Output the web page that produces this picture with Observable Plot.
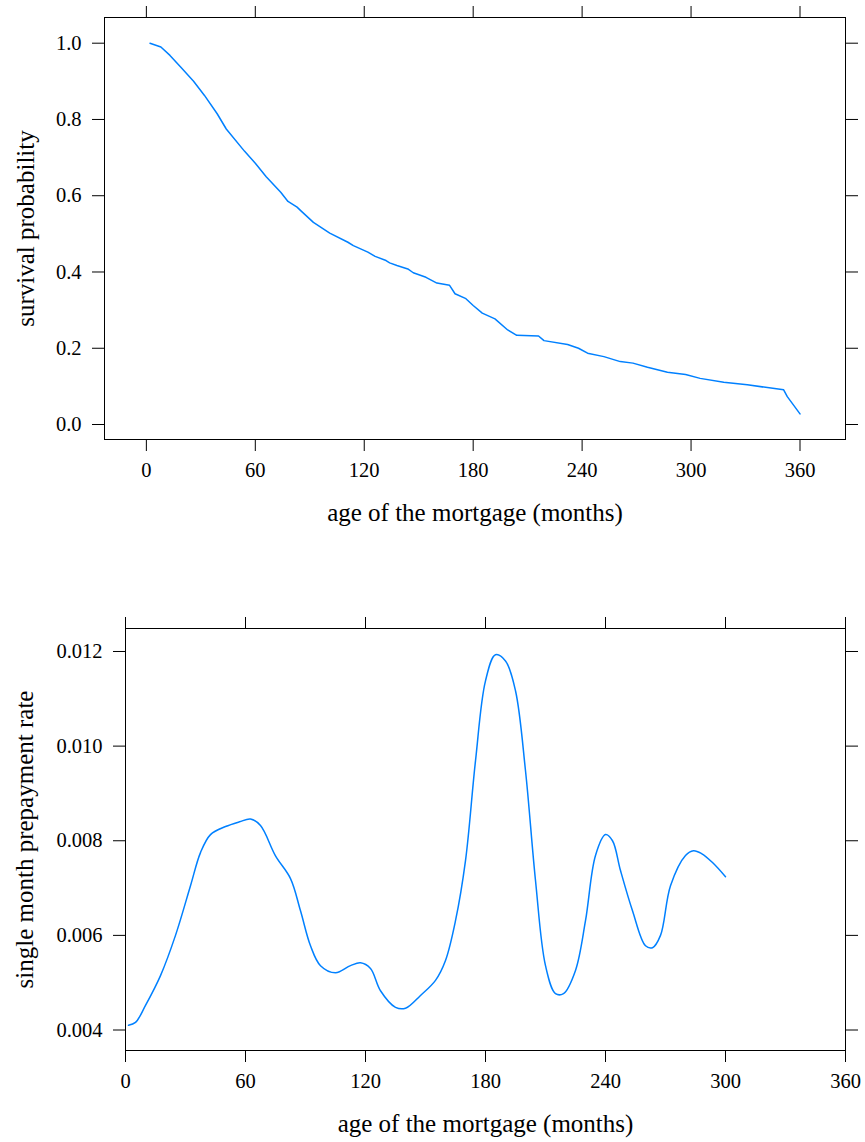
<!DOCTYPE html>
<html>
<head>
<meta charset="utf-8">
<script src="https://cdn.jsdelivr.net/npm/d3@7"></script>
<script src="https://cdn.jsdelivr.net/npm/@observablehq/plot@0.6"></script>
<style>
  html, body { margin: 0; padding: 0; background: #fff; }
  #chart svg { display: block; overflow: visible; }
  #chart svg, #chart svg text { font-family: "Liberation Serif", "Times New Roman", serif !important; }
</style>
</head>
<body>
<div id="chart"></div>
<script>
// ---- Top panel: survival probability ----
const survMonths = [2, 8, 13, 19, 26, 32, 39, 44, 54, 60, 66, 74, 78, 83, 85, 92, 101, 111, 114, 122, 126, 132, 134, 138, 144, 147, 154, 160, 167, 170, 176, 180, 185, 192, 199, 204, 216, 219, 232, 238, 243, 252, 261, 268, 276, 287, 297, 305, 318, 331, 351, 353, 360];
const survProb = [1.0, 0.990, 0.968, 0.937, 0.900, 0.863, 0.815, 0.775, 0.717, 0.685, 0.650, 0.609, 0.585, 0.570, 0.561, 0.530, 0.502, 0.478, 0.469, 0.452, 0.441, 0.430, 0.424, 0.417, 0.408, 0.398, 0.386, 0.371, 0.365, 0.343, 0.330, 0.312, 0.292, 0.277, 0.248, 0.234, 0.232, 0.220, 0.210, 0.200, 0.187, 0.178, 0.165, 0.161, 0.150, 0.137, 0.131, 0.121, 0.111, 0.104, 0.091, 0.073, 0.028];

// ---- Bottom panel: single month prepayment rate ----
const rateMonths = [1.5, 5, 10, 17.5, 25, 32.5, 37.5, 42.5, 50, 57, 62.5, 67.5, 75, 82.5, 87.5, 92.5, 97.5, 105, 112.5, 117.5, 122.5, 127.5, 135, 140, 147.5, 155, 160, 165, 170, 175, 180, 185, 190, 195, 200, 205, 210, 215, 219, 225, 230, 235, 240, 243.5, 247.5, 253.5, 260, 263.5, 267.5, 272.5, 280, 284, 288, 293.5, 300];
const rateValues = [0.00410, 0.00416, 0.00452, 0.00515, 0.00600, 0.00705, 0.00775, 0.00813, 0.00830, 0.00840, 0.00846, 0.00832, 0.00768, 0.00720, 0.00652, 0.00578, 0.00536, 0.00521, 0.00536, 0.00542, 0.00530, 0.00483, 0.00448, 0.00446, 0.00473, 0.00505, 0.00547, 0.00631, 0.00758, 0.00969, 0.01138, 0.01193, 0.01180, 0.01117, 0.00948, 0.00716, 0.00536, 0.00477, 0.00477, 0.00526, 0.00631, 0.00769, 0.00813, 0.00800, 0.00737, 0.00652, 0.00578, 0.00574, 0.00600, 0.00705, 0.00769, 0.00779, 0.00773, 0.00754, 0.00724];

const xTicks = [0, 60, 120, 180, 240, 300, 360];
const survTicks = [0, 0.2, 0.4, 0.6, 0.8, 1.0];
const rateTicks = [0.004, 0.006, 0.008, 0.010, 0.012];

const xTitle = "age of the mortgage (months)";
const survTitle = "survival probability";
const rateTitle = "single month prepayment rate";

const lineColor = "#0080ff";
const tickFont = 20.5;
const titleFont = 25;

const survData = survMonths.map((m, i) => ({month: m, value: survProb[i]}));
const rateData = rateMonths.map((m, i) => ({month: m, value: rateValues[i]}));

function panel({data, xDomain, yDomain, yTicks, yFormat, yTitle, height, margins, curve, yTitleDx}) {
  return Plot.plot({
    width: 865,
    height,
    ...margins,
    style: {fontFamily: "Liberation Serif", fontSize: tickFont + "px", background: "#fff", color: "#000"},
    x: {domain: xDomain, label: null},
    y: {domain: yDomain, label: null},
    marks: [
      Plot.frame({stroke: "#000", strokeWidth: 1}),
      Plot.axisX(xTicks, {anchor: "bottom", tickSize: 12, tickPadding: 11, fontSize: tickFont, label: null}),
      Plot.axisX(xTicks, {anchor: "top", tickSize: 12, tickFormat: () => "", label: null}),
      Plot.axisY(yTicks, {anchor: "left", tickSize: 12, tickPadding: 11, tickFormat: d3.format(yFormat), fontSize: tickFont, label: null}),
      Plot.axisY(yTicks, {anchor: "right", tickSize: 12, tickFormat: () => "", label: null}),
      Plot.line(data, {x: "month", y: "value", stroke: lineColor, strokeWidth: 1.5, curve}),
      Plot.text([xTitle], {text: d => d, frameAnchor: "bottom", dy: 73, textAnchor: "middle", lineAnchor: "middle", fontSize: titleFont}),
      Plot.text([yTitle], {text: d => d, frameAnchor: "left", dx: yTitleDx, rotate: -90, textAnchor: "middle", lineAnchor: "middle", fontSize: titleFont})
    ]
  });
}

const topPanel = panel({
  data: survData,
  xDomain: [-23.06, 385.06],
  yDomain: [-0.0393, 1.0674],
  yTicks: survTicks,
  yFormat: ".1f",
  yTitle: survTitle,
  height: 560,
  margins: {marginTop: 17, marginBottom: 121, marginLeft: 104, marginRight: 20},
  curve: "linear",
  yTitleDx: -79
});

const bottomPanel = panel({
  data: rateData,
  xDomain: [0, 360],
  yDomain: [0.003567, 0.012486],
  yTicks: rateTicks,
  yFormat: ".3f",
  yTitle: rateTitle,
  height: 582,
  margins: {marginTop: 68, marginBottom: 92, marginLeft: 125, marginRight: 20},
  curve: "catmull-rom",
  yTitleDx: -101
});

const chart = document.getElementById("chart");
chart.appendChild(topPanel);
chart.appendChild(bottomPanel);
</script>
</body>
</html>
